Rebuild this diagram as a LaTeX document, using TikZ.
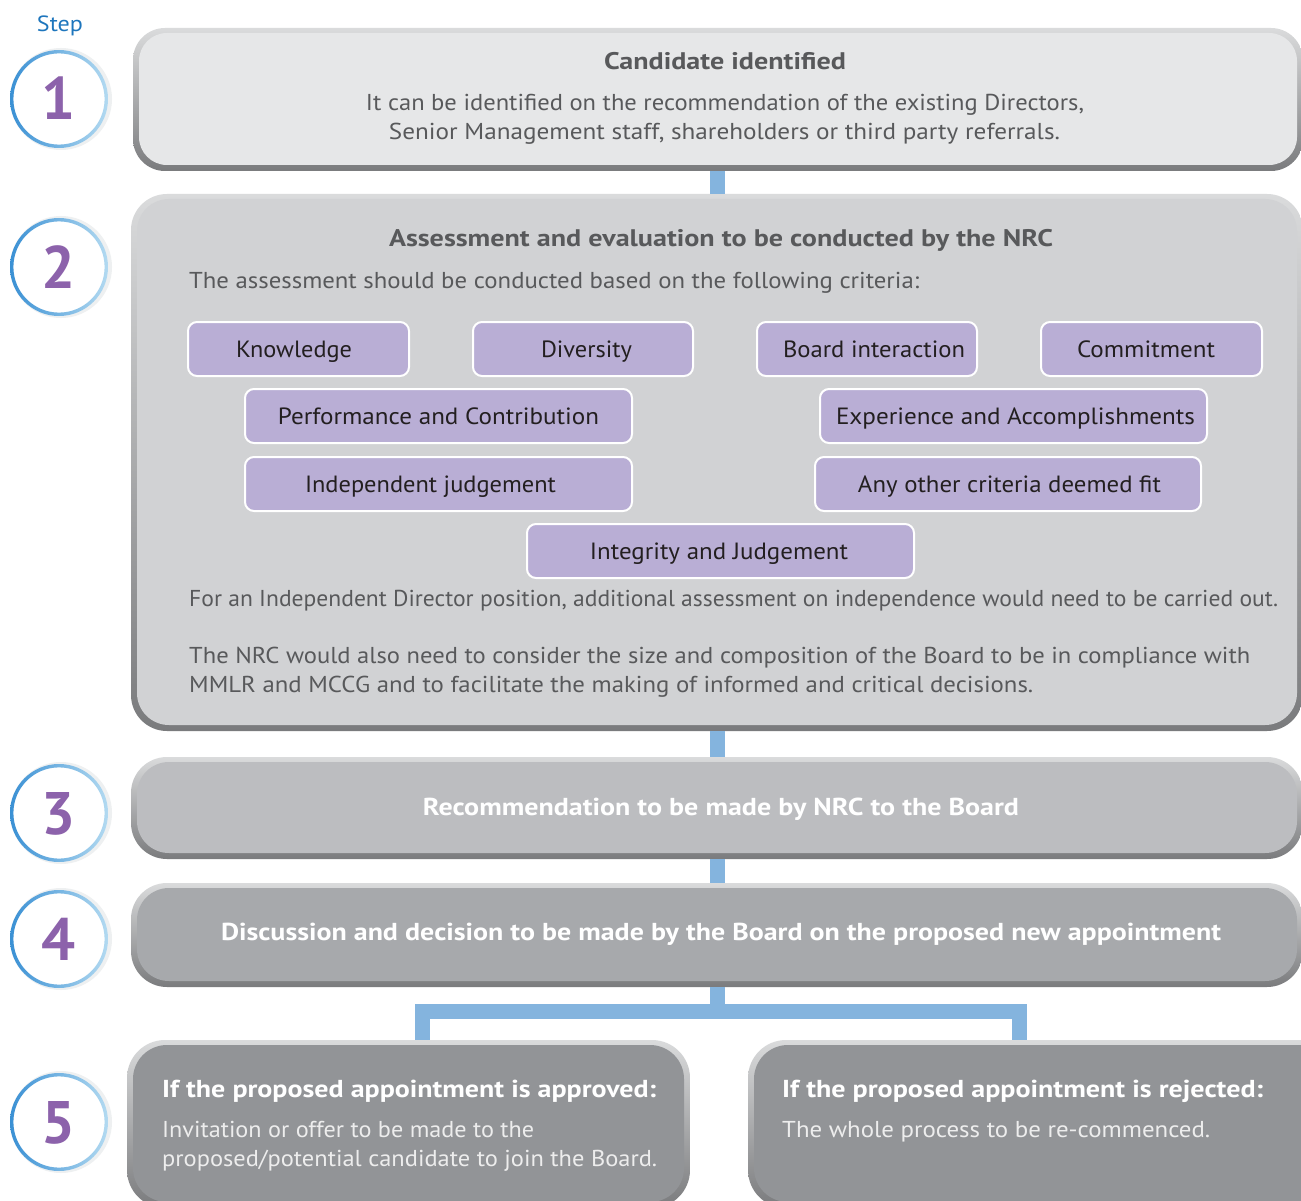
\documentclass[tikz,border=0pt]{standalone}
\usepackage{fontspec}
\usepackage{graphicx}
\setmainfont{PT Sans}
\usetikzlibrary{fit,calc}
\definecolor{txt}{HTML}{58595B}
\definecolor{crittxt}{HTML}{231F20}
\definecolor{critfill}{HTML}{B9AED5}
\definecolor{barc}{HTML}{84B4DE}
\definecolor{rimtop}{HTML}{DADBDC}
\definecolor{rimbot}{HTML}{7A7B7D}
\definecolor{f1}{HTML}{E6E7E8}
\definecolor{f2}{HTML}{D1D2D4}
\definecolor{f3}{HTML}{BCBDC0}
\definecolor{f4}{HTML}{A7A9AC}
\definecolor{f5}{HTML}{929497}
\definecolor{ringdark}{HTML}{3A90D4}
\definecolor{ringlight}{HTML}{B3DAF1}
\definecolor{numc}{HTML}{8C62AB}
\definecolor{stepc}{HTML}{1E76BD}
\definecolor{halo}{HTML}{EEF0F1}
\definecolor{lighttxt}{HTML}{EDEDED}
\newcommand\W[2]{\resizebox{#1pt}{\height}{#2}}
\tikzset{
  rim/.style={draw=none, inner sep=0pt, top color=rimtop, bottom color=rimbot},
  inner/.style={draw=none, inner sep=0pt},
  body/.style={font=\fontsize{23}{29}\selectfont, text=txt, anchor=base, inner sep=0pt},
  ttl/.style={font=\fontsize{24}{29}\selectfont\bfseries, text=txt, anchor=base, inner sep=0pt},
  wttl/.style={font=\fontsize{24.5}{29}\selectfont\bfseries, text=white, anchor=base, inner sep=0pt},
  wbody/.style={font=\fontsize{23}{29}\selectfont, text=lighttxt, anchor=base, inner sep=0pt},
  critbox/.style={draw=white, line width=2pt, fill=critfill, rounded corners=9pt, inner sep=0pt},
  crit/.style={text=crittxt, font=\fontsize{23.5}{27}\selectfont, anchor=base, inner sep=0pt},
  bar/.style={draw=barc, line width=15pt, line join=miter},
  stepnum/.style={inner sep=0pt, text=numc, font=\fontsize{60}{60}\selectfont\bfseries, text height=42pt, text depth=0pt},
  ring/.style={even odd rule, left color=ringdark, right color=ringlight},
}
\newcommand\bevel[8]{%
  \node[rim, rounded corners=#7, fit={(#2,#3)(#4,#5)}] (#1o) {};
  \node[inner, fill=#6, rounded corners=#8, fit={(#2+6,#3+5)(#4-6,#5-6)}] (#1) {};
}
\newcommand\stepcirc[3]{%
  \fill[halo] (61,#2) circle (51);
  \fill[white] (59,#2) circle (48);
  \node[stepnum] (#1) at (59,#2) {#3};
  \shade[ring] (#1.center) circle (49) (#1.center) circle (45.6);
}
% criterion: name, x1,y1,x2,y2, text centre x, text width, text
\newcommand\critnode[8]{%
  \node[critbox, fit={(#2,#3)(#4,#5)}] (#1) {};
  \node[crit] (#1t) at (#6,{(#3+#5)/2+8.5}) {\W{#7}{#8}};
}
\begin{document}
\begin{tikzpicture}[x=1pt,y=-1pt]
\useasboundingbox (0,0) rectangle (1301,1201);
\fill[white] (0,0) rectangle (1301,1201);
\begin{scope}
\clip (0,0) rectangle (1301,1201);
\coordinate (spine) at (717.5,0);
\coordinate (la) at (422,1011.5);
\coordinate (ra) at (1019,1011.5);
\coordinate (j) at (717.5,1011.5);

% boxes
\bevel{b1}{133}{28}{1303}{171}{f1}{32pt}{28pt}
\bevel{b2}{131}{194}{1303}{731}{f2}{36pt}{32pt}
\bevel{b3}{131}{757}{1303}{859}{f3}{36pt}{32pt}
\bevel{b4}{131}{883}{1303}{987}{f4}{36pt}{32pt}
\bevel{b5a}{127}{1040}{690}{1208}{f5}{38pt}{34pt}
\bevel{b5b}{748}{1040}{1340}{1208}{f5}{38pt}{34pt}

% connectors
\draw[bar] (spine |- b1o.south) -- (spine |- b2o.north);
\draw[bar] (spine |- b2o.south) -- (spine |- b3o.north);
\draw[bar] (spine |- b3o.south) -- (spine |- b4o.north);
\draw[bar] (spine |- b4o.south) -- (j);
\draw[bar] (la |- b5ao.north) -- (la) -- (ra) -- (ra |- b5bo.north);

% step label and circles
\node[font=\fontsize{22}{22}\selectfont, text=stepc, inner sep=0pt, anchor=base] (steplbl) at (60,32) {\W{46}{Step}};
\stepcirc{s1}{99}{1}
\stepcirc{s2}{267}{2}
\stepcirc{s3}{813}{3}
\stepcirc{s4}{939}{4}
\stepcirc{s5}{1122}{5}

% box 1 text
\node[ttl] (t1) at (725,70) {\W{242}{Candidate identified}};
\node[body] (t1a) at (725,111) {\W{718}{It can be identified on the recommendation of the existing Directors,}};
\node[body] (t1b) at (724.5,140) {\W{671}{Senior Management staff, shareholders or third party referrals.}};

% box 2 text
\node[ttl] (t2) at (721,247) {\W{664}{Assessment and evaluation to be conducted by the NRC}};
\node[body, anchor=base west] (t2a) at (189,288) {\W{730}{The assessment should be conducted based on the following criteria:}};
\critnode{c1}{188}{322}{409}{376}{294}{116}{Knowledge}
\critnode{c2}{473}{322}{693}{376}{586.5}{91}{Diversity}
\critnode{c3}{757}{322}{977}{376}{874}{182}{Board interaction}
\critnode{c4}{1041}{322}{1262}{376}{1146}{138}{Commitment}
\critnode{c5}{245}{389}{632}{443}{438.5}{321}{Performance and Contribution}
\critnode{c6}{820}{389}{1207}{443}{1015.5}{359}{Experience and Accomplishments}
\critnode{c7}{245}{457}{632}{511}{430.5}{251}{Independent judgement}
\critnode{c8}{815}{457}{1201}{511}{1009.5}{303}{Any other criteria deemed fit}
\critnode{c9}{527}{524}{914}{578}{719}{258}{Integrity and Judgement}
\node[body, anchor=base west] (t2b) at (189,606) {\W{1089}{For an Independent Director position, additional assessment on independence would need to be carried out.}};
\node[body, anchor=base west] (t2c) at (189,663) {\W{1061}{The NRC would also need to consider the size and composition of the Board to be in compliance with}};
\node[body, anchor=base west] (t2d) at (189,692) {\W{844}{MMLR and MCCG and to facilitate the making of informed and critical decisions.}};

% box 3, 4 text
\node[wttl] (t3) at (721,815) {\W{596}{Recommendation to be made by NRC to the Board}};
\node[wttl] (t4) at (721,940) {\W{1000}{Discussion and decision to be made by the Board on the proposed new appointment}};

% box 5 text
\node[wttl, anchor=base west] (t5a) at (162,1097) {\W{494}{If the proposed appointment is approved:}};
\node[wbody, anchor=base west] (t5a1) at (162,1137) {\W{372}{Invitation or offer to be made to the}};
\node[wbody, anchor=base west] (t5a2) at (162,1166) {\W{495}{proposed/potential candidate to join the Board.}};
\node[wttl, anchor=base west] (t5b) at (782,1097) {\W{481}{If the proposed appointment is rejected:}};
\node[wbody, anchor=base west] (t5b1) at (782,1137) {\W{428}{The whole process to be re-commenced.}};
\end{scope}
\end{tikzpicture}
\end{document}
